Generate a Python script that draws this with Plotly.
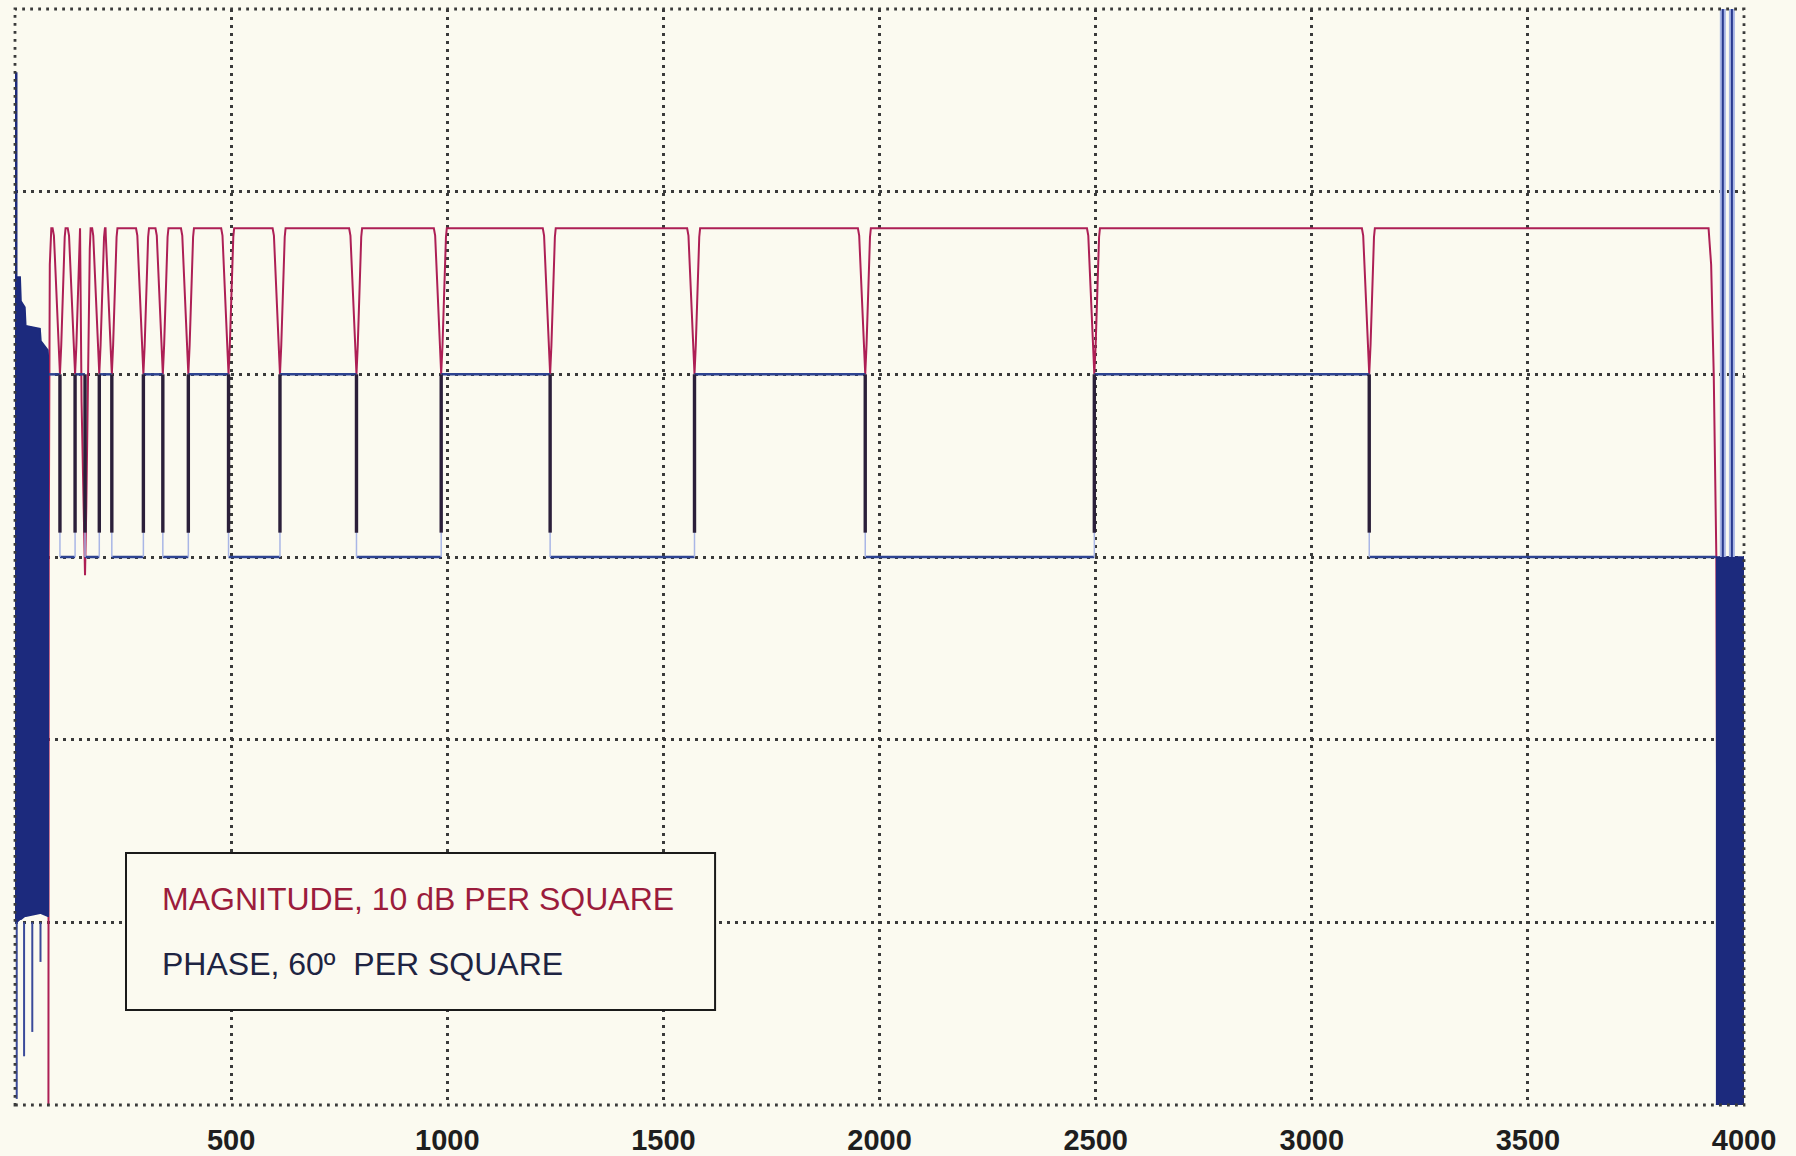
import plotly.graph_objects as go

# ---------------- data ----------------
X_TICKS = [500, 1000, 1500, 2000, 2500, 3000, 3500, 4000]
X_TICK_TEXT = ["500", "1000", "1500", "2000", "2500", "3000", "3500", "4000"]
X_GRID = [500, 1000, 1500, 2000, 2500, 3000, 3500]
DB_GRID = [-50, -40, -30, -20, -10]

# magnitude (dB, 10 dB per square)
PLATEAU_DB = -12
NOTCH_HZ = [104, 139, 162, 195, 224, 297, 342, 401, 494, 613, 790, 986, 1238, 1572, 1967, 2497, 3133]
NOTCH_DEPTH_DB = [-20, -20, -31, -20, -20, -20, -20, -20, -20, -20, -20, -20, -20, -20, -20, -20, -20]
NOTCH_SHAPE_DX = [-17, -14, -12, -8, -4, 0, 3, 6, 9, 11, 13]
NOTCH_SHAPE_FRAC = [0.0, 0.05, 0.18, 0.5, 0.8, 1.0, 0.8, 0.5, 0.2, 0.06, 0.0]
RED_LEAD_HZ = [77, 78, 80.5, 84]
RED_LEAD_DB = [-75, -30, -14, -12]
RED_TAIL_HZ = [3918, 3924, 3930, 3936, 3942]
RED_TAIL_DB = [-12, -14, -20, -30, -75]

# phase (degrees, 60 deg per square)
PHASE_EDGES_HZ = [77] + NOTCH_HZ + [3935]
PHASE_LEVELS_DEG = [60, 0, 60, 0, 60, 0, 60, 0, 60, 0, 60, 0, 60, 0, 60, 0, 60, 0]
PHASE_CORE_END_DEG = 8

LEFT_MASS_HZ = [0, 4, 4, 12, 14, 23, 25, 58, 60, 76, 77]
LEFT_MASS_TOP = [159, 159, 92, 92, 84, 82, 76, 75, 71, 68, 66]
LEFT_MASS_BOT = [-120, -120, -120, -119, -119, -118, -118, -117, -117, -118, -118]
LEFT_SPIKES_HZ = [4, 21, 40, 59]
LEFT_SPIKES_LOW = [-178, -164, -156, -133]

RIGHT_MASS_HZ = [3935, 4000]
RIGHT_MASS_TOP = [0, 0]
RIGHT_MASS_BOT = [-180, -180]
RIGHT_SPIKES_HZ = [3951, 3972]
RIGHT_SPIKES_HIGH = [185, 185]

# ---------------- styles ----------------
BG = "#fbfaf0"
GRID = "#3a3a3a"
DOT = "2.8px,5.2px"
RED = "#ad1f55"
NAVY = "#2d4391"
MASS = "#1c2a7d"
CORE = "#2b1f3a"
PALE = "#a9b6e6"

# ---------------- build magnitude curve ----------------
mx, my = list(RED_LEAD_HZ), list(RED_LEAD_DB)
n = len(NOTCH_HZ)
for i, f in enumerate(NOTCH_HZ):
    lo = (NOTCH_HZ[i - 1] + f) / 2 if i > 0 else RED_LEAD_HZ[-1]
    hi = (f + NOTCH_HZ[i + 1]) / 2 if i < n - 1 else RED_TAIL_HZ[0]
    for dx, fr in zip(NOTCH_SHAPE_DX, NOTCH_SHAPE_FRAC):
        x = f + dx
        if lo < x < hi:
            mx.append(x)
            my.append(PLATEAU_DB + fr * (NOTCH_DEPTH_DB[i] - PLATEAU_DB))
    if i < n - 1:
        mx.append(hi)
        my.append(PLATEAU_DB)
mx += RED_TAIL_HZ
my += RED_TAIL_DB

# ---------------- build phase pieces ----------------
hx, hy = [], []
for k, lev in enumerate(PHASE_LEVELS_DEG):
    hx += [PHASE_EDGES_HZ[k], PHASE_EDGES_HZ[k + 1], None]
    hy += [lev, lev, None]
tx, ty, cx, cy = [], [], [], []
for k, f in enumerate(NOTCH_HZ):
    a, b = PHASE_LEVELS_DEG[k], PHASE_LEVELS_DEG[k + 1]
    tx += [f, f, None]
    ty += [a, b, None]
    cx += [f, f, None]
    cy += [max(a, b), PHASE_CORE_END_DEG, None]

fig = go.Figure()
fig.add_trace(go.Scatter(x=[None], y=[None], xaxis="x2", yaxis="y", showlegend=False))
fig.add_trace(go.Scatter(x=mx, y=my, mode="lines", line=dict(color=RED, width=2),
                         yaxis="y", showlegend=False))
fig.add_trace(go.Scatter(x=hx, y=hy, mode="lines", line=dict(color=NAVY, width=2.5),
                         yaxis="y2", showlegend=False))
fig.add_trace(go.Scatter(x=tx, y=ty, mode="lines", line=dict(color=PALE, width=1.5),
                         yaxis="y2", showlegend=False))
fig.add_trace(go.Scatter(x=cx, y=cy, mode="lines", line=dict(color=CORE, width=3.4),
                         yaxis="y2", showlegend=False))

# left dense region
fig.add_trace(go.Scatter(x=LEFT_MASS_HZ + LEFT_MASS_HZ[::-1],
                         y=LEFT_MASS_TOP + LEFT_MASS_BOT[::-1],
                         fill="toself", fillcolor=MASS, mode="lines",
                         line=dict(color=MASS, width=1.5), yaxis="y2", showlegend=False))
sx, sy = [], []
for f, low in zip(LEFT_SPIKES_HZ, LEFT_SPIKES_LOW):
    sx += [f, f, None]
    sy += [LEFT_MASS_BOT[0], low, None]
fig.add_trace(go.Scatter(x=sx, y=sy, mode="lines", line=dict(color="#3a4a9a", width=2),
                         yaxis="y2", showlegend=False))

# right dense region
fig.add_trace(go.Scatter(x=RIGHT_MASS_HZ + RIGHT_MASS_HZ[::-1],
                         y=RIGHT_MASS_TOP + RIGHT_MASS_BOT[::-1],
                         fill="toself", fillcolor=MASS, mode="lines",
                         line=dict(color=MASS, width=1.5), yaxis="y2", showlegend=False))
rx, ry = [], []
for f, hiv in zip(RIGHT_SPIKES_HZ, RIGHT_SPIKES_HIGH):
    rx += [f, f, None]
    ry += [RIGHT_MASS_TOP[0], hiv, None]
fig.add_trace(go.Scatter(x=rx, y=ry, mode="lines", line=dict(color=PALE, width=6),
                         yaxis="y2", showlegend=False))
fig.add_trace(go.Scatter(x=rx, y=ry, mode="lines", line=dict(color="#2a3a8e", width=2),
                         yaxis="y2", showlegend=False))

fig.update_layout(
    width=1796, height=1156,
    margin=dict(l=15, r=52, t=9, b=51, autoexpand=False),
    paper_bgcolor=BG, plot_bgcolor=BG,
    showlegend=False,
    xaxis=dict(range=[0, 4000], tickvals=X_TICKS, ticktext=X_TICK_TEXT,
               showgrid=False, zeroline=False, showline=False, automargin=False,
               ticks="outside", ticklen=9, tickcolor="rgba(0,0,0,0)",
               tickfont=dict(family="Liberation Sans, Arial, sans-serif",
                             size=29, color="#1e1e1e", weight="bold")),
    xaxis2=dict(range=[0, 4000], overlaying="x", matches="x", tickvals=X_GRID,
                showticklabels=False, showgrid=True, gridcolor=GRID, gridwidth=2.8,
                griddash=DOT, zeroline=False, showline=False, ticks=""),
    yaxis=dict(range=[-60, 0], tickvals=DB_GRID, showticklabels=False, showgrid=True,
               gridcolor=GRID, gridwidth=2.8, griddash=DOT, zeroline=False, ticks="",
               automargin=False),
    yaxis2=dict(range=[-180, 180], overlaying="y", showgrid=False, showticklabels=False,
                zeroline=False, ticks="", automargin=False),
    shapes=[
        dict(type="rect", xref="paper", yref="paper", x0=0, x1=1, y0=0, y1=1,
             line=dict(color=GRID, width=2.8, dash=DOT), layer="above"),
        dict(type="rect", xref="paper", yref="paper", x0=0.0642, x1=0.4049,
             y0=0.0867, y1=0.2299, line=dict(color="#1a1a1a", width=2),
             fillcolor=BG, layer="above"),
    ],
    annotations=[
        dict(xref="paper", yref="paper", x=0.0839, y=0.188, xanchor="left", yanchor="middle",
             text="MAGNITUDE, 10 dB PER SQUARE", showarrow=False,
             font=dict(family="Liberation Sans, Arial, sans-serif", size=32, color="#9b1c3c")),
        dict(xref="paper", yref="paper", x=0.0839, y=0.1287, xanchor="left", yanchor="middle",
             text="PHASE, 60\u00ba  PER SQUARE", showarrow=False,
             font=dict(family="Liberation Sans, Arial, sans-serif", size=32, color="#1e2442")),
    ],
)

fig.write_html("out.html",
               config={"displayModeBar": False},
               post_script="document.body.style.margin='0';"
                           "document.body.style.background='" + BG + "';")
